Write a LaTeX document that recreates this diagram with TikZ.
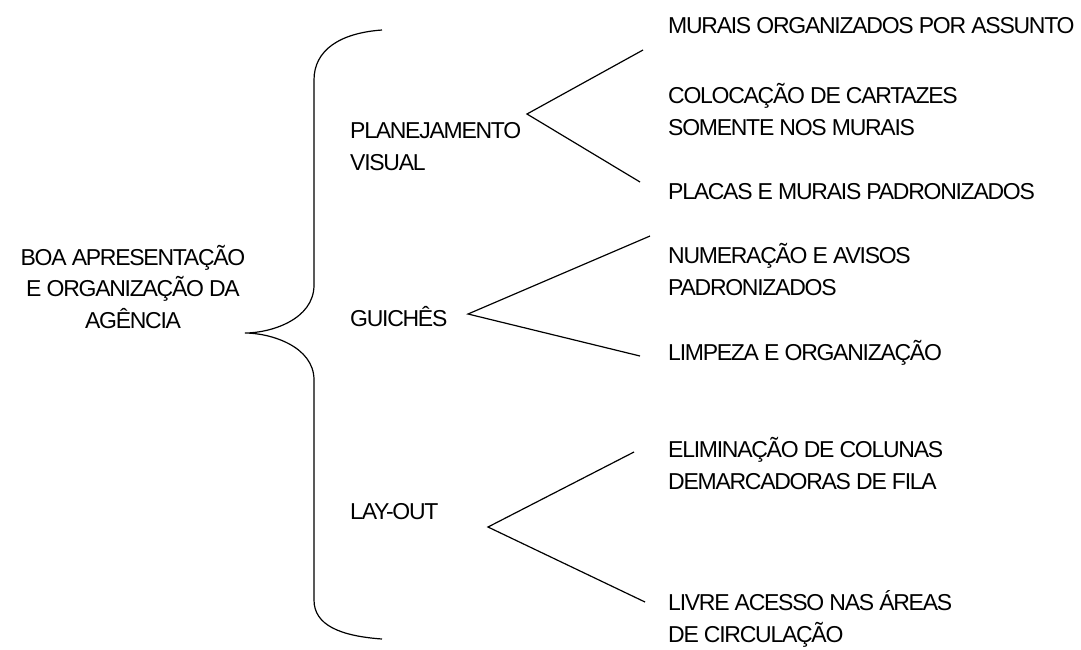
\documentclass[tikz,border=0pt]{standalone}
\usepackage{fontspec}
\setmainfont{Liberation Sans}[LetterSpace=-5.5]
\usetikzlibrary{positioning}

\begin{document}
\begin{tikzpicture}[x=1pt,y=-1pt,every node/.style={font=\fontsize{23}{31.5}\selectfont,inner sep=0pt}]
\tikzstyle{item}=[anchor=base west,align=left]
\tikzstyle{fork}=[line width=1.2pt]
\useasboundingbox (0,0) rectangle (1081,649);

% main item and its brace
\node[anchor=base,align=center] (agencia) at (133,328) {BOA APRESENTAÇÃO\\E ORGANIZAÇÃO DA\\AGÊNCIA};
\draw[fork] (382,30) .. controls (340,33) and (314,50) .. (314,80) -- (314,285)
  .. controls (314,320) and (270,333) .. (245,333)
  .. controls (270,333) and (314,346) .. (314,380) -- (314,600)
  .. controls (314,625) and (340,636) .. (382,639);

% second level
\node[item] (plan) at (350,170) {PLANEJAMENTO\\VISUAL};
\node[item] (guiche) at (350,326) {GUICHÊS};
\node[item] (layout) at (350,519) {LAY-OUT};

% third level
\node[item] (murais) at (668,33) {MURAIS ORGANIZADOS POR ASSUNTO};
\node[item] (cartazes) at (668,135) {COLOCAÇÃO DE CARTAZES\\SOMENTE NOS MURAIS};
\node[item] (placas) at (668,199) {PLACAS E MURAIS PADRONIZADOS};
\node[item] (numeracao) at (668,295) {NUMERAÇÃO E AVISOS\\PADRONIZADOS};
\node[item] (limpeza) at (668,360) {LIMPEZA E ORGANIZAÇÃO};
\node[item] (colunas) at (668,489) {ELIMINAÇÃO DE COLUNAS\\DEMARCADORAS DE FILA};
\node[item] (acesso) at (668,642) {LIVRE ACESSO NAS ÁREAS\\DE CIRCULAÇÃO};

% forks
\coordinate (planfork) at (527,114);
\coordinate (planup) at (643,50);
\coordinate (plandown) at (640,182);
\coordinate (guichefork) at (468,314);
\coordinate (guicheup) at (650,236);
\coordinate (guichedown) at (640,356);
\coordinate (layoutfork) at (488,527);
\coordinate (layoutup) at (634,452);
\coordinate (layoutdown) at (645,602);

\draw[fork] (planup) -- (planfork) -- (plandown);
\draw[fork] (guicheup) -- (guichefork) -- (guichedown);
\draw[fork] (layoutup) -- (layoutfork) -- (layoutdown);
\end{tikzpicture}
\end{document}
